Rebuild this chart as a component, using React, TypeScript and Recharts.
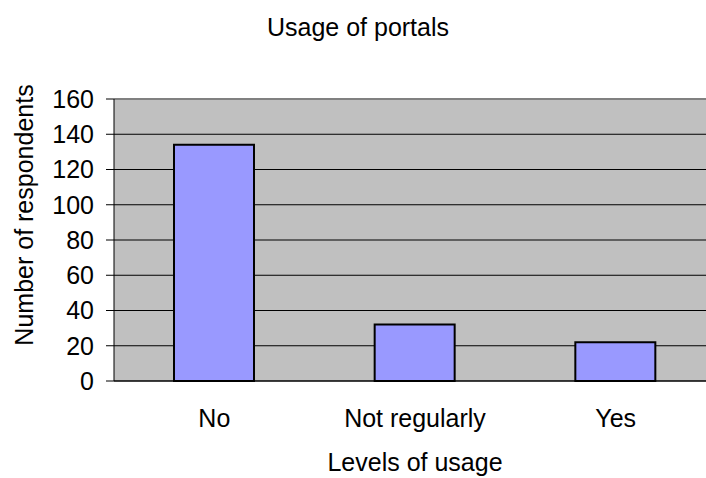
import React from "react";
import { BarChart, Bar, XAxis, YAxis, CartesianGrid, ReferenceLine } from "recharts";

const categories = ["No", "Not regularly", "Yes"];
const respondents = [134, 32, 22];
const yTicks = [0, 20, 40, 60, 80, 100, 120, 140, 160];
const boundaryTicks = [0, 1, 2, 3];

const data = categories.map((c, i) => ({ name: c, value: respondents[i] }));

const FONT = "'Liberation Sans', Arial, sans-serif";
const FS = 25;

const YLabel = (props: any) => {
  const vb = props.viewBox || {};
  const cx = (vb.x || 0) + 24;
  const cy = (vb.y || 0) + (vb.height || 0) / 2 - 25;
  return (
    <text
      x={cx}
      y={cy}
      transform={`rotate(-90 ${cx} ${cy})`}
      textAnchor="middle"
      dominantBaseline="central"
      fill="#000"
      fontSize={FS}
      fontFamily={FONT}
    >
      Number of respondents
    </text>
  );
};

export default function App() {
  return (
    <div style={{ position: "absolute", left: 0, top: 0, width: 706, height: 478, overflow: "hidden", background: "#fff", fontFamily: FONT }}>
      <div style={{ position: "absolute", left: 0, top: 12, width: 716, textAlign: "center", fontSize: FS, color: "#000", lineHeight: "30px" }}>
        Usage of portals
      </div>
      <BarChart
        width={716}
        height={478}
        data={data}
        margin={{ top: 99, right: 0, bottom: 0, left: 0 }}
        barSize={80}
        style={{ position: "absolute", left: 0, top: 0, fontFamily: FONT }}
      >
        <CartesianGrid vertical={false} fill="#C0C0C0" stroke="#000" strokeOpacity={1} />
        <XAxis
          xAxisId="b"
          type="number"
          domain={[0, 3]}
          ticks={boundaryTicks}
          tick={false}
          tickSize={8}
          axisLine={false}
          tickLine={{ stroke: "#000" }}
          height={8}
          allowDataOverflow
        />
        <XAxis
          dataKey="name"
          xAxisId="c"
          tickLine={false}
          tickSize={0}
          tickMargin={20}
          axisLine={false}
          height={89}
          tick={{ fill: "#000", fontSize: FS, fontFamily: FONT }}
          label={{ value: "Levels of usage", position: "insideBottom", offset: 7, fill: "#000", fontSize: FS, fontFamily: FONT }}
        />
        <YAxis
          width={114}
          domain={[0, 160]}
          ticks={yTicks}
          interval={0}
          tickSize={8}
          tickMargin={12}
          axisLine={{ stroke: "#000" }}
          tickLine={{ stroke: "#000" }}
          tick={{ fill: "#000", fontSize: FS, fontFamily: FONT }}
          label={<YLabel />}
        />
        <ReferenceLine y={160} xAxisId="c" stroke="#808080" strokeWidth={2} />
        <ReferenceLine y={0} xAxisId="c" stroke="#000" strokeWidth={1} />
        <Bar dataKey="value" xAxisId="c" fill="#9999FF" stroke="#000" strokeWidth={2} isAnimationActive={false} />
      </BarChart>
    </div>
  );
}
